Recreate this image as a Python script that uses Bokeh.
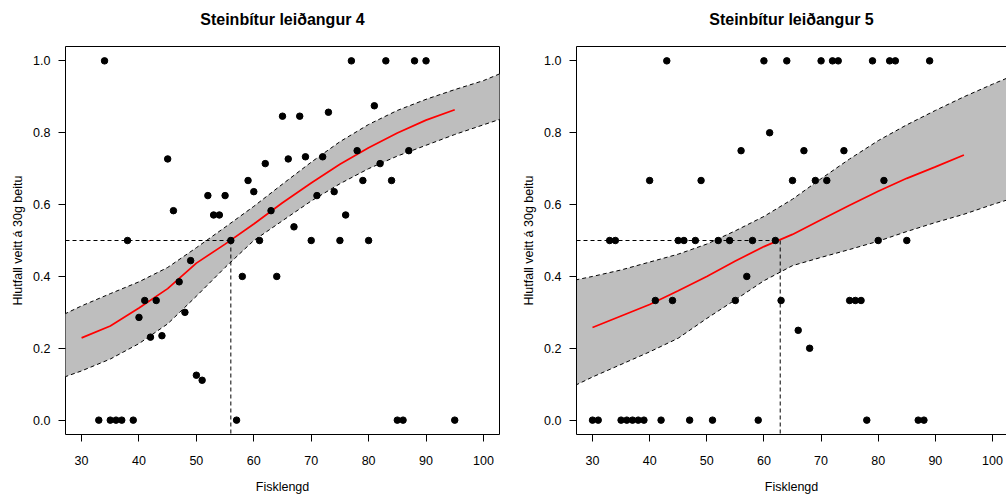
from bokeh.plotting import figure
from bokeh.layouts import row
from bokeh.models import FixedTicker, LinearAxis, PrintfTickFormatter
from bokeh.embed import file_html
from bokeh.resources import INLINE

# ---------------- data ----------------
titles = ["Steinbítur leiðangur 4", "Steinbítur leiðangur 5"]
x_label = "Fisklengd"
y_label = "Hlutfall veitt á 30g beitu"
x_ticks = [30, 40, 50, 60, 70, 80, 90, 100]
y_ticks = [0.0, 0.2, 0.4, 0.6, 0.8, 1.0]

# leiðangur 4: observed proportion by length
len4 = [33, 34, 35, 36, 37, 38, 39, 40, 41, 42, 43, 44, 45, 46, 47, 48, 49, 50,
        51, 52, 53, 54, 55, 56, 57, 58, 59, 60, 61, 62, 63, 64, 65, 66, 67, 68,
        69, 70, 71, 72, 73, 74, 75, 76, 77, 78, 79, 80, 81, 82, 83, 84, 85, 86,
        87, 88, 90, 95]
frac4 = [0.0, 1.0, 0.0, 0.0, 0.0, 0.5, 0.0, 0.286, 0.333, 0.231, 0.333, 0.235,
         0.727, 0.583, 0.385, 0.3, 0.444, 0.125, 0.111, 0.625, 0.571, 0.571,
         0.625, 0.5, 0.0, 0.4, 0.667, 0.636, 0.5, 0.714, 0.583, 0.4, 0.846,
         0.727, 0.538, 0.846, 0.733, 0.5, 0.625, 0.733, 0.857, 0.636, 0.5,
         0.571, 1.0, 0.75, 0.667, 0.5, 0.875, 0.714, 1.0, 0.667, 0.0, 0.0,
         0.75, 1.0, 1.0, 0.0]

# leiðangur 5: observed proportion by length
len5 = [30, 31, 33, 34, 35, 36, 37, 38, 39, 40, 41, 42, 43, 44, 45, 46, 47, 48,
        49, 51, 52, 54, 55, 56, 57, 58, 59, 60, 61, 62, 63, 64, 65, 66, 67, 68,
        69, 70, 71, 72, 73, 74, 75, 76, 77, 78, 79, 80, 81, 82, 83, 85, 87, 88,
        89]
frac5 = [0.0, 0.0, 0.5, 0.5, 0.0, 0.0, 0.0, 0.0, 0.0, 0.667, 0.333, 0.0, 1.0,
         0.333, 0.5, 0.5, 0.0, 0.5, 0.667, 0.0, 0.5, 0.5, 0.333, 0.75, 0.4, 0.5,
         0.0, 1.0, 0.8, 0.5, 0.333, 1.0, 0.667, 0.25, 0.75, 0.2, 0.667, 1.0,
         0.667, 1.0, 1.0, 0.75, 0.333, 0.333, 0.333, 0.0, 1.0, 0.5, 0.667, 1.0,
         1.0, 0.5, 0.0, 0.0, 1.0]

# fitted curves
fit_len = [30, 35, 40, 45, 50, 55, 60, 65, 70, 75, 80, 85, 90, 95]
fit4 = [0.229, 0.262, 0.312, 0.366, 0.437, 0.49, 0.546, 0.605, 0.66, 0.712,
        0.758, 0.799, 0.835, 0.864]
fit5 = [0.258, 0.29, 0.322, 0.36, 0.40, 0.443, 0.483, 0.517, 0.558, 0.598,
        0.637, 0.673, 0.705, 0.738]

# confidence bands
band_len = [27, 30, 35, 40, 45, 50, 55, 60, 65, 70, 75, 80, 85, 90, 95, 100, 103]
upper4 = [0.295, 0.318, 0.352, 0.385, 0.425, 0.48, 0.537, 0.595, 0.657, 0.718,
          0.775, 0.823, 0.862, 0.893, 0.92, 0.945, 0.965]
lower4 = [0.12, 0.137, 0.17, 0.213, 0.268, 0.345, 0.425, 0.5, 0.555, 0.61,
          0.658, 0.70, 0.735, 0.765, 0.795, 0.822, 0.838]
upper5 = [0.39, 0.40, 0.418, 0.44, 0.462, 0.49, 0.527, 0.567, 0.615, 0.672,
          0.727, 0.778, 0.822, 0.862, 0.90, 0.935, 0.955]
lower5 = [0.097, 0.12, 0.155, 0.19, 0.228, 0.283, 0.335, 0.388, 0.43, 0.453,
          0.475, 0.498, 0.525, 0.55, 0.573, 0.60, 0.615]

# length at 50 % (L50)
l50 = [56.0, 62.85]

FONT = "Liberation Sans"
X_START, Y_START, Y_END = 27.2, -0.04, 1.04


def style_axis(ax, line):
    ax.major_tick_out = 7
    ax.major_tick_in = 0
    ax.minor_tick_out = 0
    ax.minor_tick_in = 0
    ax.major_tick_line_color = "black"
    ax.axis_line_color = "black" if line else None
    ax.major_label_text_font = FONT
    ax.major_label_text_font_size = "12.5px"
    ax.major_label_text_color = "black"
    ax.axis_label_text_font = FONT
    ax.axis_label_text_font_size = "12.5px"
    ax.axis_label_text_font_style = "normal"
    ax.axis_label_text_color = "black"


def panel(title, lens, fracs, fit, lower, upper, x50, x_end, width, bl, br, full_box):
    p = figure(width=width, height=498, x_range=(X_START, x_end),
               y_range=(Y_START, Y_END), output_backend="svg",
               toolbar_location=None, min_border_left=bl, min_border_right=br,
               min_border_top=46, min_border_bottom=64)
    p.grid.visible = False
    p.outline_line_color = "black" if full_box else None
    p.outline_line_alpha = 1
    p.xaxis.axis_label = x_label
    p.yaxis.axis_label = y_label
    p.xaxis.ticker = FixedTicker(ticks=x_ticks)
    p.yaxis.ticker = FixedTicker(ticks=y_ticks)
    p.yaxis.formatter = PrintfTickFormatter(format="%.1f")
    style_axis(p.xaxis[0], not full_box)
    style_axis(p.yaxis[0], not full_box)
    p.xaxis.major_label_standoff = 14
    p.xaxis.axis_label_standoff = 12
    p.yaxis.major_label_standoff = 8
    p.yaxis.axis_label_standoff = 5

    # top side: heading text (and the top border line of the open right panel)
    top = LinearAxis(ticker=FixedTicker(ticks=[]), major_tick_out=0,
                     major_tick_in=0, minor_tick_out=0, minor_tick_in=0,
                     major_label_standoff=0, major_label_text_font_size="0px",
                     axis_line_color=None if full_box else "black",
                     axis_label=title, axis_label_text_font=FONT,
                     axis_label_text_font_size="16px",
                     axis_label_text_font_style="bold",
                     axis_label_text_color="black", axis_label_standoff=19)
    p.add_layout(top, "above")

    p.varea(x=band_len, y1=lower, y2=upper, fill_color="#BEBEBE")
    p.line(band_len, upper, line_color="black", line_width=1, line_dash="4 3")
    p.line(band_len, lower, line_color="black", line_width=1, line_dash="4 3")
    p.segment(x0=[X_START], y0=[0.5], x1=[x50], y1=[0.5], line_color="black",
              line_width=1, line_dash="4 3")
    p.segment(x0=[x50], y0=[0.5], x1=[x50], y1=[Y_START], line_color="black",
              line_width=1, line_dash="4 3")
    p.line(fit_len, fit, line_color="red", line_width=1.7)
    p.scatter(lens, fracs, size=6.5, color="black")
    return p


p4 = panel(titles[0], len4, frac4, fit4, lower4, upper4, l50[0], 102.8, 503, 65, 4, True)
p5 = panel(titles[1], len5, frac5, fit5, lower5, upper5, l50[1], 102.45, 503, 73, 0, False)

layout = row(p4, p5)

open("out.html", "w").write(file_html(layout, INLINE))
